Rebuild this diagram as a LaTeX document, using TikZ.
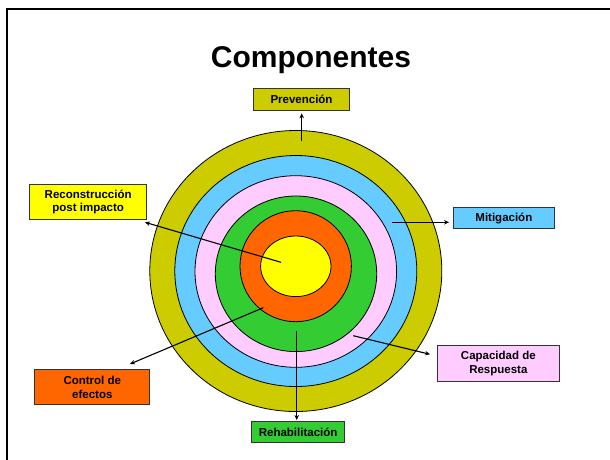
\documentclass[tikz,border=0pt]{standalone}
\usepackage{fontspec}
\setmainfont{Liberation Sans}
\usetikzlibrary{arrows.meta}
\definecolor{olive}{HTML}{CCCC00}
\definecolor{skyb}{HTML}{66CCFF}
\definecolor{pinkc}{HTML}{FFCCFF}
\definecolor{greenc}{HTML}{33CC33}
\definecolor{orangec}{HTML}{FF6600}
\definecolor{yellowc}{HTML}{FFFF00}
\definecolor{boxedge}{HTML}{333333}
\tikzset{
  ring/.style={draw=black, line width=0.8pt},
  label box/.style={draw=boxedge, line width=1pt, inner sep=0pt, align=center,
    font=\fontsize{11.5}{13.8}\selectfont\bfseries, anchor=north west},
  link/.style={draw=black, line width=1.1pt, -{Stealth[length=5pt,width=4.5pt]}}
}
\begin{document}
\begin{tikzpicture}[x=1pt, y=-1pt]
\useasboundingbox (0,0) rectangle (610,459);
% frame of the slide
\draw[line width=2.2pt] (7,470) -- (7,9) -- (620,9);
% title
\node[font=\fontsize{30}{36}\selectfont\bfseries, anchor=base] (title) at (311,67.3) {Componentes};
% concentric rings, outer to inner
\fill[olive, ring] (295.8,271) ellipse [x radius=146, y radius=140.5];
\fill[skyb, ring] (295.8,271) ellipse [x radius=121, y radius=115.5];
\fill[pinkc, ring] (295.8,271.5) ellipse [x radius=100.8, y radius=95.8];
\fill[greenc, ring] (296,273.8) ellipse [x radius=80.7, y radius=77.8];
\fill[orangec, ring] (295.7,266.2) ellipse [x radius=55.7, y radius=55.5];
\fill[yellowc, ring] (295.8,266.3) ellipse [x radius=35.2, y radius=30.3];
% labels
\node[label box, fill=olive, minimum width=95.4pt, minimum height=21.7pt] (prev) at (253.3,88.3) {Prevención};
\node[label box, fill=skyb, minimum width=101.3pt, minimum height=21pt] (miti) at (452.7,207.3) {Mitigación};
\node[label box, fill=yellowc, minimum width=116.7pt, minimum height=35pt] (recon) at (29.3,184) {Reconstrucción\\post impacto};
\node[label box, fill=orangec, minimum width=115pt, minimum height=35pt] (ctrl) at (34.3,369) {Control de\\efectos};
\node[label box, fill=greenc, minimum width=93.3pt, minimum height=21pt] (rehab) at (251,421.3) {Rehabilitación};
\node[label box, fill=pinkc, minimum width=122.3pt, minimum height=35.7pt] (capac) at (436.7,345) {Capacidad de\\Respuesta};
% connector ends inside the rings
\coordinate (pOuter) at (301.7,141);
\coordinate (pBlue) at (391.7,222.3);
\coordinate (pCore) at (281,262.3);
\coordinate (pOrange) at (263.3,307.7);
\coordinate (pGreen) at (296.7,331);
\coordinate (pPink) at (353.3,335.7);
\coordinate (tPrev) at (301.7,113.3);
\coordinate (tMiti) at (449,222.3);
\coordinate (tRecon) at (145,222.3);
\coordinate (tCtrl) at (130,364);
\coordinate (tRehab) at (296.7,420);
\coordinate (tCapac) at (430,354.3);
% connectors
\draw[link] (pOuter) -- (tPrev);
\draw[link] (pBlue) -- (tMiti);
\draw[link] (pCore) -- (tRecon);
\draw[link] (pOrange) -- (tCtrl);
\draw[link] (pGreen) -- (tRehab);
\draw[link] (pPink) -- (tCapac);
\end{tikzpicture}
\end{document}
